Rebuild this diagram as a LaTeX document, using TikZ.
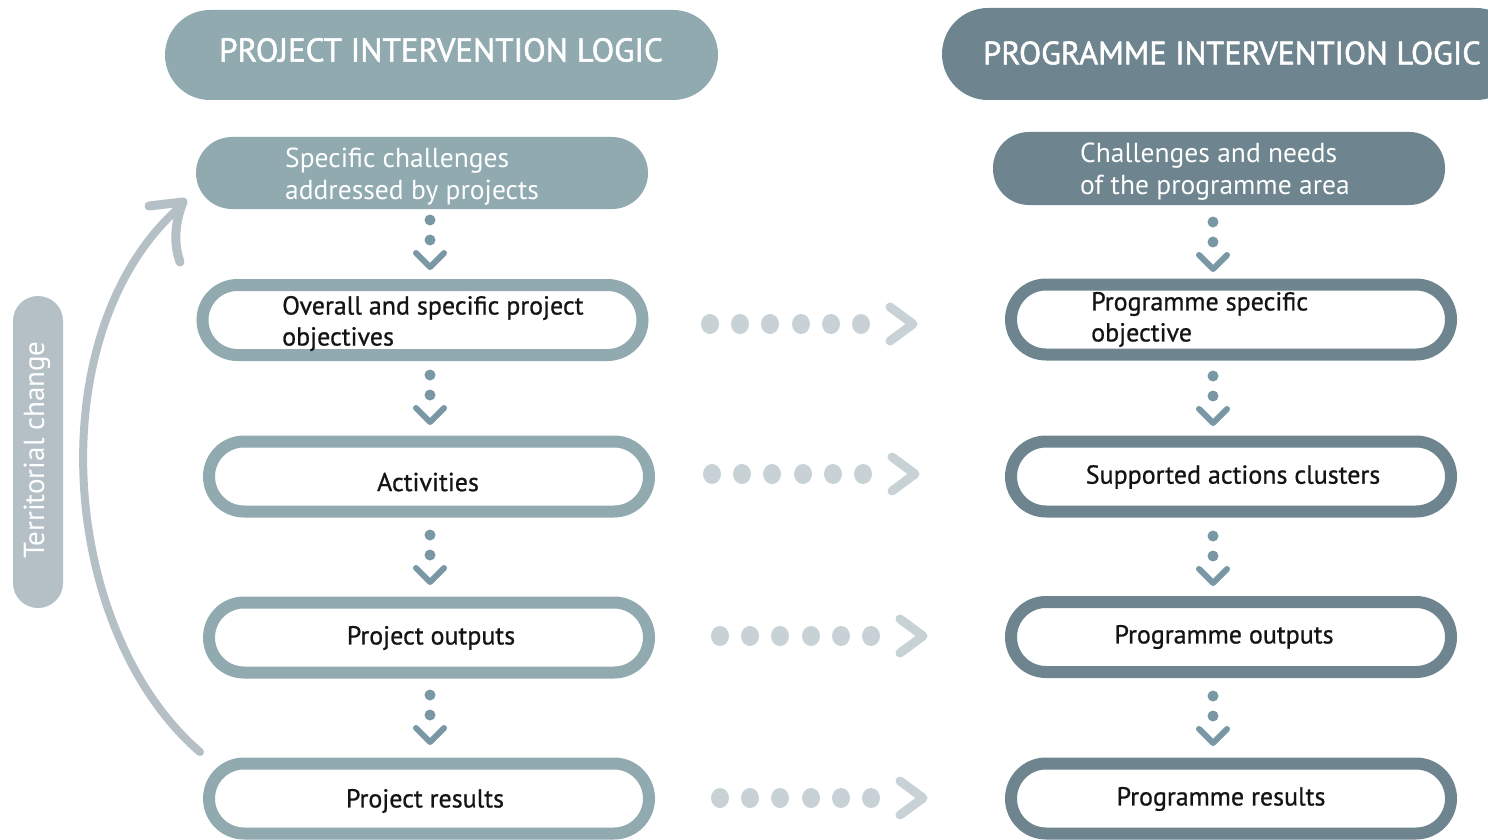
\documentclass[tikz,border=0pt]{standalone}
\usepackage{fontspec}
\setmainfont{PT Sans}[BoldFont=PT Sans, BoldFeatures={FakeBold=0.8}]
\newfontfamily\hdrfont{PT Sans}[BoldFont=PT Sans, BoldFeatures={FakeBold=1.6}]
\usetikzlibrary{calc,shapes.geometric}
\definecolor{leftc}{HTML}{90AAB0}
\definecolor{rightc}{HTML}{6E858F}
\definecolor{pillc}{HTML}{B5C0C6}
\definecolor{hdotc}{HTML}{C8D2D6}
\definecolor{vdotc}{HTML}{7A97A5}
\definecolor{txtc}{HTML}{141414}
\tikzset{
  hdr/.style={rounded corners=45pt, minimum height=90pt, inner sep=0pt},
  fillbox/.style={rounded corners=36pt, minimum height=72pt, minimum width=452pt, inner sep=0pt},
  ringbox/.style={draw, line width=12pt, fill=white, rounded corners=35pt, minimum height=70pt, minimum width=440pt, inner sep=0pt},
  hdrtxt/.style={text=white, font=\hdrfont\bfseries\fontsize{33}{38}\selectfont, inner sep=0pt},
  wtxt/.style={text=white, font=\fontsize{27.5}{32}\selectfont, align=left, inner sep=0pt, anchor=west},
  btxt/.style={text=txtc, font=\bfseries\fontsize{26}{31}\selectfont, align=left, inner sep=0pt},
  vdot/.style={fill=vdotc, circle, minimum size=11pt, inner sep=0pt},
  hdot/.style={fill=hdotc, ellipse, minimum width=18pt, minimum height=20pt, inner sep=0pt},
}
\newcommand{\vdotarrow}[2]{%
  \node[vdot] at (#1,#2) {};
  \node[vdot] at (#1,#2+20) {};
  \draw[vdotc, line width=6pt, line cap=round, line join=round] (#1-14,#2+33) -- (#1,#2+47) -- (#1+14,#2+33);
}
\newcommand{\hdotarrow}[2]{%
  \foreach \k/\dx in {0/0,1/30,2/60,3/91,4/121,5/151} {\node[hdot] at (#1+\dx,#2) {};}
  \draw[hdotc, line width=9pt, line cap=round, line join=round] (#1+180,#2-17) -- (#1+203,#2) -- (#1+180,#2+17);
}
\begin{document}
\begin{tikzpicture}[x=1pt,y=-1pt]
\useasboundingbox (0,0) rectangle (1488,840);
\clip (0,0) rectangle (1488,840);
% headers
\node[hdr, fill=leftc, minimum width=553pt] (hl) at (441.5,55) {};
\node[hdrtxt] (hlt) at (441,50) {PROJECT INTERVENTION LOGIC};
\node[hdr, fill=rightc, minimum width=580pt, minimum height=92pt, rounded corners=46pt] (hr) at (1232,54) {};
\node[hdrtxt, anchor=west, font=\hdrfont\bfseries\fontsize{32.3}{36}\selectfont] (hrt) at (983,53) {PROGRAMME INTERVENTION LOGIC};
% filled top boxes
\node[fillbox, fill=leftc] (lc) at (422,173) {};
\node[wtxt] (lct) at (285,177) {Specific challenges\\addressed by projects};
\node[fillbox, fill=rightc, minimum height=73pt] (rc) at (1219,168.5) {};
\node[wtxt] (rct) at (1080,172) {Challenges and needs\\of the programme area};
% left ring boxes
\node[ringbox, draw=leftc] (l1) at (422.5,320) {};
\node[btxt, anchor=west] (l1t) at (282,323.5) {Overall and specific project\\objectives};
\node[ringbox, draw=leftc] (l2) at (429,476.5) {};
\node[btxt] (l2t) at (428,482) {Activities};
\node[ringbox, draw=leftc] (l3) at (429,637.5) {};
\node[btxt] (l3t) at (431,638) {Project outputs};
\node[ringbox, draw=leftc] (l4) at (429,798.5) {};
\node[btxt] (l4t) at (425,801) {Project results};
% right ring boxes
\node[ringbox, draw=rightc] (r1) at (1231,319.5) {};
\node[btxt, anchor=west] (r1t) at (1091,319.5) {Programme specific\\objective};
\node[ringbox, draw=rightc] (r2) at (1231,476.5) {};
\node[btxt] (r2t) at (1233,477) {Supported actions clusters};
\node[ringbox, draw=rightc] (r3) at (1231,637) {};
\node[btxt] (r3t) at (1224,637) {Programme outputs};
\node[ringbox, draw=rightc] (r4) at (1231,798.5) {};
\node[btxt] (r4t) at (1221,799) {Programme results};
% vertical dotted arrows
\vdotarrow{430}{220}
\vdotarrow{430}{375}
\vdotarrow{430}{535}
\vdotarrow{430}{695}
\vdotarrow{1213}{222}
\vdotarrow{1213}{376}
\vdotarrow{1213}{536}
\vdotarrow{1213}{696}
% horizontal dotted arrows
\hdotarrow{710}{324}
\hdotarrow{712}{474}
\hdotarrow{720}{636}
\hdotarrow{720}{798}
% territorial change
\node[fill=pillc, rounded corners=25pt, minimum width=312pt, minimum height=50pt, inner sep=0pt, rotate=90] (tc) at (38,452) {};
\node[text=white, font=\fontsize{29}{32}\selectfont, rotate=90, inner sep=0pt] (tct) at (37,450) {Territorial change};
% curved arrow
\coordinate (cb) at (200,752);
\coordinate (ct) at (181,206);
\draw[pillc, line width=8pt, line cap=round] (cb) .. controls (58,630) and (38,330) .. (ct);
\coordinate (ha) at (149,206);
\coordinate (hb) at (183,202);
\coordinate (hc) at (180,262);
\draw[pillc, line width=9pt, line cap=round, line join=round] (ha) -- (hb) .. controls (174,225) and (174,245) .. (hc);
\end{tikzpicture}
\end{document}
